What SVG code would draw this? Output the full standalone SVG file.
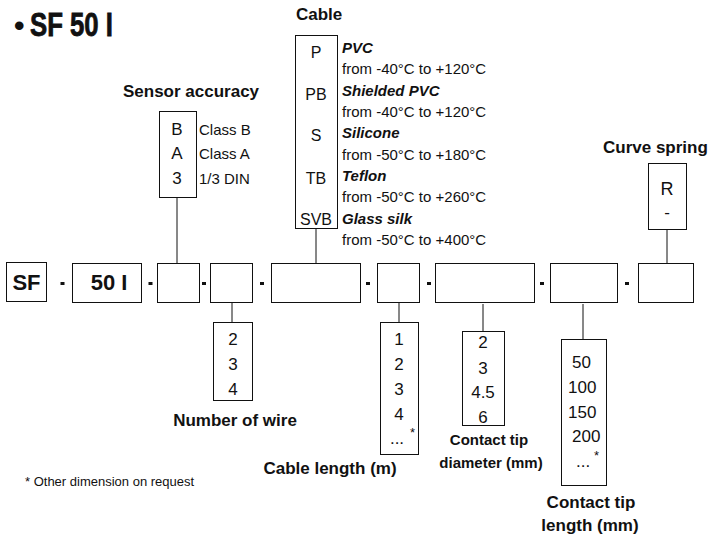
<svg xmlns="http://www.w3.org/2000/svg" width="712" height="537" viewBox="0 0 712 537">
<style>
.box{fill:#fff;stroke:#111;stroke-width:1}
.ln{stroke:#111;stroke-width:1;fill:none}
.dash{fill:#111}
text{font-family:"Liberation Sans",Arial,sans-serif;fill:#111}
.h{font-weight:bold;font-size:17px}
.d{font-size:17px;text-anchor:middle}
.c{font-size:16px;text-anchor:middle}
.s{font-size:15px}
.bi{font-size:15px;font-weight:bold;font-style:italic}
.m{font-weight:bold;font-size:22px;text-anchor:middle}
</style>
<rect width="712" height="537" fill="#fff"/>
<g id="title">
<text x="14" y="36" style="font-size:30px;font-weight:bold">•</text>
<text x="30" y="36" style="font-size:33px;font-weight:bold;stroke:#111;stroke-width:0.8" textLength="83" lengthAdjust="spacingAndGlyphs">SF 50 I</text>
</g>
<g id="connectors">
<line class="ln" x1="177" y1="197" x2="177" y2="263"/>
<line class="ln" x1="316" y1="228" x2="316" y2="263"/>
<line class="ln" x1="667" y1="229" x2="667" y2="263"/>
<line class="ln" x1="232" y1="302" x2="232" y2="322"/>
<line class="ln" x1="399" y1="302" x2="399" y2="322"/>
<line class="ln" x1="483" y1="304" x2="483" y2="331"/>
<line class="ln" x1="583" y1="304" x2="583" y2="339"/>
</g>
<g id="dashes">
<rect class="dash" x="60.5" y="282" width="4" height="3"/>
<rect class="dash" x="148.5" y="282" width="4" height="3"/>
<rect class="dash" x="202" y="282" width="4" height="3"/>
<rect class="dash" x="260" y="282" width="4" height="3"/>
<rect class="dash" x="366" y="282" width="4" height="3"/>
<rect class="dash" x="427" y="282" width="4" height="3"/>
<rect class="dash" x="540" y="282" width="4" height="3"/>
<rect class="dash" x="625" y="282" width="4" height="3"/>
</g>
<g id="n-sf"><rect class="box" x="6.5" y="262.5" width="40" height="39"/><text class="m" x="26.5" y="290">SF</text></g>
<g id="n-50i"><rect class="box" x="72.5" y="263.5" width="69" height="39"/><text class="m" x="109" y="290">50 I</text></g>
<g id="n-acc-slot"><rect class="box" x="157.5" y="263.5" width="42" height="39"/></g>
<g id="n-wire-slot"><rect class="box" x="210.5" y="263.5" width="42" height="39"/></g>
<g id="n-cable-slot"><rect class="box" x="271.5" y="263.5" width="89" height="39"/></g>
<g id="n-length-slot"><rect class="box" x="377.5" y="263.5" width="42" height="39"/></g>
<g id="n-diam-slot"><rect class="box" x="435.5" y="263.5" width="99" height="39"/></g>
<g id="n-tiplen-slot"><rect class="box" x="550.5" y="263.5" width="67" height="39"/></g>
<g id="n-spring-slot"><rect class="box" x="638.5" y="263.5" width="55" height="39"/></g>
<g id="n-accuracy">
<text class="h" x="191" y="97" text-anchor="middle">Sensor accuracy</text>
<rect class="box" x="159.5" y="111.5" width="37" height="86"/>
<text class="d" x="177" y="135">B</text>
<text class="d" x="177" y="159">A</text>
<text class="d" x="177" y="184">3</text>
<text class="s" x="199" y="135">Class B</text>
<text class="s" x="199" y="159">Class A</text>
<text class="s" x="199" y="184">1/3 DIN</text>
</g>
<g id="n-cable">
<text class="h" x="296" y="20">Cable</text>
<rect class="box" x="295.5" y="35.5" width="42" height="193"/>
<text class="c" x="316" y="58">P</text>
<text class="c" x="316" y="100">PB</text>
<text class="c" x="316" y="141">S</text>
<text class="c" x="316" y="184">TB</text>
<text class="c" x="316" y="225">SVB</text>
<text class="bi" x="342" y="53">PVC</text>
<text class="s" x="342" y="74">from -40°C  to +120°C</text>
<text class="bi" x="342" y="96">Shielded PVC</text>
<text class="s" x="342" y="117">from -40°C  to +120°C</text>
<text class="bi" x="342" y="138">Silicone</text>
<text class="s" x="342" y="160">from -50°C  to +180°C</text>
<text class="bi" x="342" y="181">Teflon</text>
<text class="s" x="342" y="202">from -50°C  to +260°C</text>
<text class="bi" x="342" y="224">Glass silk</text>
<text class="s" x="342" y="245">from -50°C to +400°C</text>
</g>
<g id="n-spring">
<text class="h" x="603" y="153">Curve spring</text>
<rect class="box" x="648.5" y="163.5" width="38" height="66"/>
<text class="d" x="667" y="195" style="font-size:18px">R</text>
<text class="d" x="667" y="218">-</text>
</g>
<g id="n-wire">
<rect class="box" x="213.5" y="322.5" width="39" height="78"/>
<text class="d" x="233" y="345">2</text>
<text class="d" x="233" y="370">3</text>
<text class="d" x="233" y="395">4</text>
<text class="h" x="235" y="426" text-anchor="middle">Number of wire</text>
</g>
<g id="n-length">
<rect class="box" x="380.5" y="322.5" width="38" height="132"/>
<text class="d" x="399" y="345">1</text>
<text class="d" x="399" y="370">2</text>
<text class="d" x="399" y="395">3</text>
<text class="d" x="399" y="420">4</text>
<text class="d" x="397" y="444">...</text>
<text x="410" y="437" style="font-size:13px">*</text>
<text class="h" x="330" y="474" text-anchor="middle">Cable length (m)</text>
</g>
<g id="n-diameter">
<rect class="box" x="462.5" y="331.5" width="42" height="94"/>
<text class="d" x="483" y="348">2</text>
<text class="d" x="483" y="374">3</text>
<text class="d" x="483" y="398">4.5</text>
<text class="d" x="483" y="423">6</text>
<text x="489" y="445" text-anchor="middle" style="font-size:15px;font-weight:bold">Contact tip</text>
<text x="491" y="468" text-anchor="middle" style="font-size:15px;font-weight:bold">diameter (mm)</text>
</g>
<g id="n-tiplength">
<rect class="box" x="561.5" y="339.5" width="45" height="146"/>
<text x="572" y="368" style="font-size:17px">50</text>
<text x="568" y="393" style="font-size:17px">100</text>
<text x="568" y="418" style="font-size:17px">150</text>
<text x="572" y="442" style="font-size:17px">200</text>
<text x="576" y="467" style="font-size:17px">...</text>
<text x="594" y="460" style="font-size:13px">*</text>
<text class="h" x="591" y="508" text-anchor="middle">Contact tip</text>
<text class="h" x="590" y="531" text-anchor="middle">length (mm)</text>
</g>
<g id="footnote">
<text x="25" y="486" style="font-size:13px">* Other dimension on request</text>
</g>
</svg>
